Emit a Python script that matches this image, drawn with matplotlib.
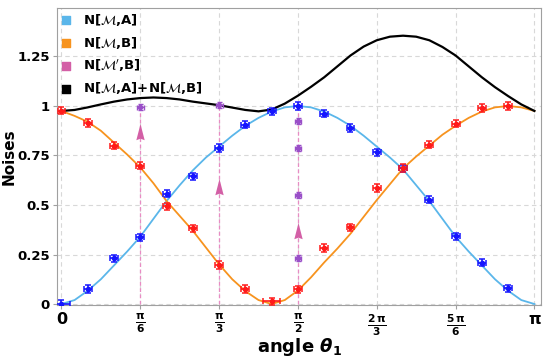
import numpy as np
import matplotlib
matplotlib.use('Agg')
import matplotlib.pyplot as plt
from matplotlib.path import Path

# theory curves, angle in degrees (5 deg steps)
curve_deg = list(range(0, 181, 5))
curve_A = [0, 0.02, 0.067, 0.125, 0.195, 0.265, 0.34, 0.43, 0.52, 0.6, 0.675, 0.74, 0.795,
           0.85, 0.9, 0.94, 0.972, 0.993, 1.0, 0.993, 0.972, 0.94, 0.9, 0.85, 0.795, 0.74,
           0.68, 0.6, 0.52, 0.43, 0.34, 0.265, 0.195, 0.125, 0.067, 0.02, 0]
curve_B = [0.975, 0.95, 0.92, 0.875, 0.815, 0.755, 0.69, 0.61, 0.52, 0.445, 0.37, 0.285, 0.2,
           0.125, 0.065, 0.02, 0.0, 0.02, 0.068, 0.135, 0.21, 0.28, 0.355, 0.44, 0.525, 0.605,
           0.685, 0.745, 0.8, 0.855, 0.9, 0.94, 0.972, 0.993, 1.0, 0.993, 0.975]
curve_sum = [0.975, 0.98, 0.993, 1.008, 1.022, 1.033, 1.04, 1.043, 1.04, 1.033, 1.022, 1.013, 1.004,
             0.992, 0.98, 0.973, 0.982, 1.012, 1.052, 1.097, 1.145, 1.2, 1.255, 1.3, 1.332, 1.35,
             1.355, 1.35, 1.332, 1.298, 1.255, 1.2, 1.145, 1.095, 1.05, 1.008, 0.975]

# measured points
meas_deg = list(range(0, 171, 10))
meas_A = [0, 0.076, 0.232, 0.337, 0.556, 0.645, 0.788, 0.906, 0.973, 1.0, 0.96, 0.889,
          0.766, 0.685, 0.527, 0.342, 0.209, 0.079]
meas_B = [0.976, 0.914, 0.80, 0.698, 0.493, 0.382, 0.197, 0.076, 0.014, 0.074, 0.283, 0.387,
          0.586, 0.687, 0.805, 0.911, 0.99, 1.0]
meas_xerr_A = [3.2] + [1.5] * 17
meas_xerr_B = [1.5] * 8 + [3.2] + [1.5] * 9

# N[M',B] points
prime_deg = [30, 60, 90, 90, 90, 90]
prime_val = [0.993, 1.007, 0.926, 0.786, 0.55, 0.231]
arrow_deg = [30, 60, 90]
arrow_val = [0.86, 0.58, 0.36]
vline_top = [0.993, 1.007, 1.0]

tick_labels = ['0', r'$\mathbf{\frac{\pi}{6}}$', r'$\mathbf{\frac{\pi}{3}}$', r'$\mathbf{\frac{\pi}{2}}$',
               r'$\mathbf{\frac{2\,\pi}{3}}$', r'$\mathbf{\frac{5\,\pi}{6}}$', 'π']

c_A = '#5ab6ea'
c_B = '#f7931e'
c_prime = '#d35fa6'
c_sum = 'black'

r = np.deg2rad

fig = plt.figure(figsize=(5.5, 3.59), dpi=100)
ax = fig.add_axes([0.1036, 0.1504, 0.88, 0.8274])

ax.plot(r(np.array(curve_deg)), curve_A, color=c_A, lw=1.3, zorder=3)
ax.plot(r(np.array(curve_deg)), curve_B, color=c_B, lw=1.3, zorder=3)
ax.plot(r(np.array(curve_deg)), curve_sum, color=c_sum, lw=1.6, zorder=3)

for d, top in zip(arrow_deg, vline_top):
    ax.plot([r(d), r(d)], [0, top], color='#e88cc4', lw=0.9, ls=(0, (3, 2)), zorder=2)

arrow_marker = Path([(0, 1), (0.4, -0.55), (0, -0.4), (-0.4, -0.55), (0, 1)],
                    [Path.MOVETO, Path.LINETO, Path.LINETO, Path.LINETO, Path.CLOSEPOLY])
ax.plot(r(np.array(arrow_deg)), arrow_val, ls='none', marker=arrow_marker, ms=15,
        color=c_prime, mec='none', zorder=4)

ax.errorbar(r(np.array(meas_deg)), meas_A, yerr=0.018, xerr=r(np.array(meas_xerr_A)),
            fmt='o', ms=3, color='#1515ff', elinewidth=1.2, capsize=2, capthick=1.1, zorder=5)
ax.errorbar(r(np.array(meas_deg)), meas_B, yerr=0.018, xerr=r(np.array(meas_xerr_B)),
            fmt='o', ms=3, color='#ff1a1a', elinewidth=1.2, capsize=2, capthick=1.1, zorder=5)
ax.errorbar(r(np.array(prime_deg)), prime_val, yerr=0.015, xerr=r(1.3),
            fmt='o', ms=3, color='#9a4fc8', elinewidth=1.0, capsize=1.8, capthick=1.0, zorder=5)

ax.set_xlim(r(-1.7), r(182.5))
ax.set_ylim(-0.005, 1.495)
ax.set_xticks(r(np.array([0, 30, 60, 90, 120, 150, 180])))
ax.set_xticklabels(tick_labels)
for i, lab in enumerate(ax.get_xticklabels()):
    lab.set_fontweight('bold')
    lab.set_fontsize(11.5 if i in (0, 6) else 11)
ax.set_yticks([0, 0.25, 0.5, 0.75, 1, 1.25])
ax.set_yticklabels(['0', '0.25', '0.5', '0.75', '1', '1.25'], fontsize=9.5, fontweight='bold')

ax.grid(True, color='#d8d8d8', ls=(0, (4, 3)), lw=0.8)
ax.set_axisbelow(True)
for s in ax.spines.values():
    s.set_color('#a0a0a0')
ax.tick_params(direction='out', length=3, width=0.8, color='#a0a0a0', pad=2)

ax.set_xlabel(r'angle $\mathbfit{\theta}_\mathbf{1}$', fontsize=13, fontweight='bold', labelpad=-1)
ax.set_ylabel('Noises', fontsize=11, fontweight='bold')
ax.yaxis.set_label_coords(-0.083, 0.5)

handles = [ax.scatter([], [], marker='s', s=28, color=c) for c in (c_A, c_B, c_prime, c_sum)]
labels = [r'N[$\mathcal{M}$,A]', r'N[$\mathcal{M}$,B]', r"N[$\mathcal{M}'$,B]",
          r'N[$\mathcal{M}$,A]+N[$\mathcal{M}$,B]']
ax.legend(handles, labels, loc='upper left', frameon=False, prop={'weight': 'bold', 'size': 9.5},
          handlelength=0.8, handletextpad=0.9, labelspacing=0.5, borderpad=0.3,
          borderaxespad=0.0, bbox_to_anchor=(0.0, 1.0))

fig.savefig('out.png', dpi=100)
